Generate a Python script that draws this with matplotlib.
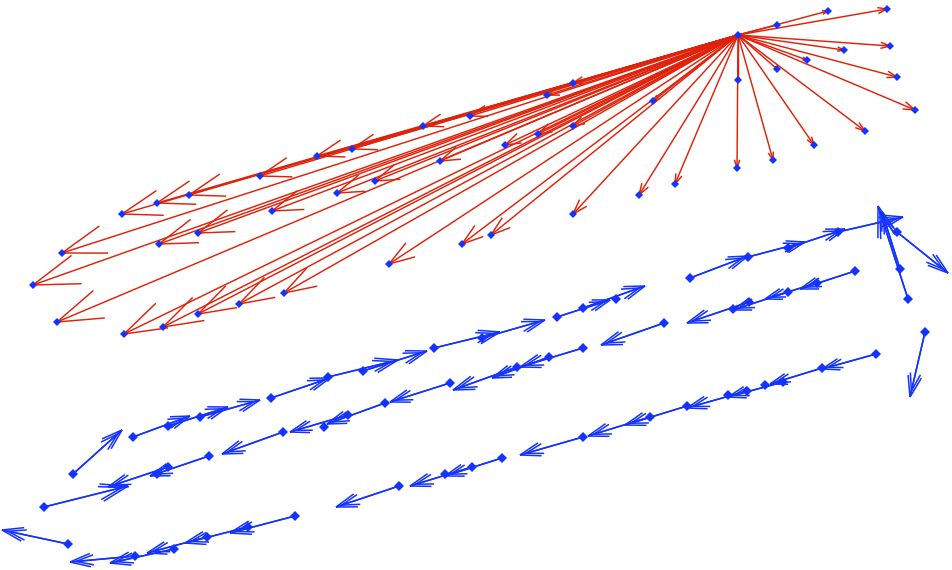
import numpy as np
import matplotlib
matplotlib.use("Agg")
import matplotlib.pyplot as plt
from matplotlib.collections import LineCollection

# hub of the red vectors
hub_x, hub_y = 738, 35

# red vector end points
red_x = [122, 157, 189, 260, 317, 352, 423, 470, 440, 375, 337, 272, 198, 159,
         62, 33, 57, 124, 163, 198, 239, 284, 389, 462, 491, 573, 639, 675,
         737, 773, 814, 865, 915, 897, 890, 844, 807, 777, 738, 887, 828, 777,
         653, 573, 538, 505, 547, 573]
red_y = [214, 203, 195, 176, 156, 149, 126, 116, 161, 181, 193, 211, 233, 244,
         253, 285, 322, 334, 327, 314, 304, 293, 264, 244, 235, 214, 195, 184,
         168, 160, 145, 131, 110, 77, 46, 50, 60, 69, 80, 9, 11, 25,
         101, 126, 134, 145, 95, 83]

# blue vectors: start point -> tip
blue_x0 = [133, 168, 200, 271, 328, 363, 434, 482, 557, 583, 690, 748, 788, 838,
           855, 817, 788, 749, 664, 583, 549, 517, 450, 385, 348, 283, 209, 168, 44,
           876, 822, 783, 747, 687, 650, 583, 502, 472, 399,
           295, 248, 207, 174, 135, 68,
           73, 908, 900, 897, 925]
blue_y0 = [437, 426, 417, 398, 377, 371, 348, 338, 317, 308, 278, 257, 248, 232,
           271, 283, 292, 302, 323, 348, 357, 367, 383, 403, 415, 432, 456, 467, 507,
           354, 368, 382, 391, 406, 417, 437, 458, 467, 486,
           516, 527, 537, 549, 556, 544,
           474, 299, 269, 232, 332]
blue_x1 = [190, 228, 260, 330, 398, 427, 500, 545, 610, 645, 748, 805, 845, 903,
           800, 765, 733, 687, 601, 520, 492, 453, 390, 327, 290, 222, 150, 108, 128,
           822, 770, 728, 687, 625, 588, 520, 445, 410, 336,
           230, 185, 147, 110, 70, 2,
           122, 878, 882, 948, 910]
blue_y1 = [416, 407, 400, 378, 360, 351, 332, 320, 300, 286, 256, 242, 229, 217,
           289, 299, 310, 323, 345, 367, 378, 390, 402, 424, 432, 454, 476, 487, 486,
           369, 384, 397, 408, 425, 436, 455, 476, 486, 507,
           533, 543, 553, 563, 562, 530,
           430, 206, 212, 273, 397]

# blue points without their own vector
extra_x = [616, 765, 728, 445, 157, 324, 733]
extra_y = [299, 385, 395, 474, 474, 427, 309]

RED = "#e0220a"
BLUE = "#1433ff"


def arrow_segments(x0, y0, x1, y1, frac, ang, back=0.0):
    segs = []
    for a, b, c, d in zip(x0, y0, x1, y1):
        p0 = np.array([a, b], float)
        p1 = np.array([c, d], float)
        v = p1 - p0
        L = np.hypot(*v)
        u = v / L
        segs.append([p0, p1])
        tip = p1 - back * u
        h = frac * L
        for s in (ang, -ang):
            cs, sn = np.cos(s), np.sin(s)
            r = np.array([u[0] * cs - u[1] * sn, u[0] * sn + u[1] * cs])
            segs.append([tip, tip - h * r])
    return segs


fig = plt.figure(figsize=(9.52, 5.70), dpi=100)
ax = fig.add_axes([0, 0, 1, 1])
ax.set_xlim(0, 952)
ax.set_ylim(570, 0)
ax.axis("off")

# red vectors from the hub
n = len(red_x)
red_segs = arrow_segments([hub_x] * n, [hub_y] * n, red_x, red_y, 0.065, np.radians(18))
ax.add_collection(LineCollection(red_segs, colors=RED, linewidths=1.05))

# blue vectors, drawn with a doubled head
blue_segs = arrow_segments(blue_x0, blue_y0, blue_x1, blue_y1, 0.33, np.radians(18))
blue_segs += arrow_segments(blue_x0, blue_y0, blue_x1, blue_y1, 0.28, np.radians(16), back=6)
ax.add_collection(LineCollection(blue_segs, colors=BLUE, linewidths=1.1))

# point markers
ax.plot(red_x + [hub_x], red_y + [hub_y], "D", color=BLUE, ms=4.2, mew=0)
ax.plot(blue_x0 + extra_x, blue_y0 + extra_y, "D", color=BLUE, ms=5, mew=0)

fig.savefig("out.png", dpi=100)
